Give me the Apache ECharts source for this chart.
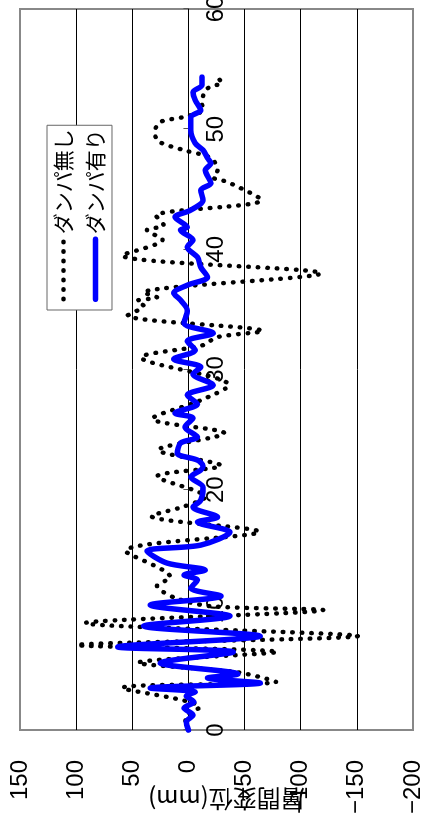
<!DOCTYPE html>
<html>
<head>
<meta charset="utf-8">
<script src="https://cdn.jsdelivr.net/npm/echarts@6/dist/echarts.min.js"></script>
<style>
html,body{margin:0;padding:0;background:#fff;overflow:hidden;width:426px;height:821px;}
#wrap{position:absolute;left:0;top:0;width:821px;height:426px;transform-origin:0 0;transform:translateY(821px) rotate(-90deg);}
</style>
</head>
<body>
<div id="wrap"></div>
<script>
// time axis ticks (s) and displacement ticks (mm)
const timeTicks = [0, 10, 20, 30, 40, 50, 60];
const dispTicks = [150, 100, 50, 0, -50, -100, -150, -200];

const seriesNames = ['ダンパ無し', 'ダンパ有り'];
const axisTitle = '層間変位(mm)';

// ダンパ無し (dotted)
const timeNo = [0, 1.0, 1.9, 3.5, 4.0, 4.8, 5.6, 6.5, 7.07, 7.82, 8.9, 9.98, 10.3, 11.0, 12.0, 12.7, 14.9, 16.5, 17.8, 18.6, 19.4, 21.1, 22.0, 23.3, 24.7, 25.9, 27.4, 28.7, 31.0, 32.0, 32.7, 33.2, 34.5, 35.3, 35.7, 36.0, 36.4, 38.0, 39.5, 40.8, 41.6, 42.0, 42.8, 44.1, 45.6, 46.0, 46.6, 47.6, 48.25, 49.0, 49.8, 50.6, 51.0, 51.6, 52.2, 53.2, 53.6, 53.8, 54.2];
const dispNo = [0, 3, -10, 59, -78, -44, 45, -79, 99, -151, 92, -120, -20, 12, 28, 16, 56, -63, 33, 4, -15, 28, -29, 27, -32, 32, -10, -36, 42, -12, -26, -66, 54, 40, 46, 28, 40, -118, 59, 23, 37, 22, 29, -65, -35, -22, -26, -20, 4, 27, 30, 25, 5, -13, -12, -15, -21, -30, -27];

// ダンパ有り (solid blue)
const timeYes = [0, 0.67, 1.25, 1.83, 2.33, 2.83, 3.16, 3.49, 3.91, 4.33, 4.66, 5.57, 6.49, 6.91, 7.82, 8.65, 9.48, 10.4, 11.15, 11.81, 12.48, 12.9, 13.31, 13.89, 14.89, 15.39, 16.47, 17.3, 17.72, 18.55, 19.13, 20.2, 21.05, 21.63, 21.96, 22.46, 23.04, 23.88, 24.38, 25.2, 25.96, 26.37, 27.12, 27.87, 28.7, 29.62, 30.2, 30.87, 31.6, 32.36, 33.03, 33.86, 34.94, 35.77, 36.36, 37.02, 37.69, 38.52, 39.35, 40.18, 40.77, 41.6, 41.85, 42.68, 43.26, 44.09, 44.93, 45.51, 46.59, 47.17, 47.59, 48.25, 48.84, 49.92, 51.0, 51.58, 52.41, 53.08, 53.66, 54.33];
const dispYes = [0, 2, -4, 4, -5, 2, -6, 34, -64, -17, -44, 25, -40, 63, -64, 40, -37, 34, -29, -2, -8, 4, -15, 19, 37, -11, -37, -8, -26, -4, -11, -13, -2, -11, -13, -8, 10, 7, -8, 3, -4, 12, -8, 1, -22, -4, -11, 13, -6, 1, -22, 4, 1, 7, 13, 1, -17, -11, -8, 1, -4, 7, 1, 12, -2, -13, -11, -20, -15, -20, -17, -13, -6, -2, -2, -11, -6, -4, -12, -12];

function pairs(ts, vs){ return ts.map((t,i)=>[t, vs[i]]); }

const GRID_H = 393;
const yMin = dispTicks[dispTicks.length-1], yMax = dispTicks[0];
// place the time axis on the zero displacement line
const xAxisOffset = -GRID_H * (0 - yMin) / (yMax - yMin);

const dottedStyle = {color: '#000', width: 4.5, type: [0.5, 9], cap: 'round'};
const solidStyle = {color: '#0000ff', width: 5.5, cap: 'round', join: 'round'};

const chart = echarts.init(document.getElementById('wrap'), null, {renderer:'canvas'});
const FONT = "'Liberation Sans', 'Noto Sans CJK JP', sans-serif";
const option = {
  animation: false,
  backgroundColor: '#fff',
  textStyle: {fontFamily: FONT},
  grid: {left: 91, top: 20, width: 721, height: GRID_H, show: true, borderColor: '#888', borderWidth: 2,
         backgroundColor: 'transparent', containLabel: false, outerBoundsMode: 'none'},
  legend: {
    orient: 'vertical', left: 511, top: 47,
    data: [
      {name: seriesNames[0], lineStyle: dottedStyle},
      {name: seriesNames[1], lineStyle: solidStyle}
    ],
    backgroundColor: '#fff', borderColor: '#666', borderWidth: 1,
    padding: [6, 4, 6, 8], itemGap: 11, itemWidth: 60, itemHeight: 12,
    itemStyle: {opacity: 0},
    textStyle: {fontSize: 21, color: '#000', fontFamily: "'Noto Sans CJK JP', sans-serif"}
  },
  xAxis: {
    type: 'value', position: 'bottom', offset: xAxisOffset,
    min: timeTicks[0], max: timeTicks[timeTicks.length-1], interval: timeTicks[1]-timeTicks[0],
    axisLine: {show: true, onZero: false, lineStyle: {color: '#000', width: 1}},
    axisTick: {show: true, inside: true, length: 5, lineStyle: {color: '#555'}},
    axisLabel: {fontSize: 24, color: '#000', margin: 16, fontFamily: FONT},
    splitLine: {show: false}
  },
  yAxis: {
    type: 'value', min: yMin, max: yMax, interval: dispTicks[0]-dispTicks[1],
    name: axisTitle, nameLocation: 'middle', nameGap: 57, nameMoveOverlap: false,
    nameTextStyle: {fontSize: 24, color: '#000', backgroundColor: '#fff', padding: [0, 20, 0, 0], fontFamily: "'Noto Sans CJK JP', 'Liberation Sans', sans-serif"},
    axisLine: {show: false, onZero: false},
    axisTick: {show: false},
    axisLabel: {fontSize: 24, color: '#000', margin: 30, fontFamily: FONT,
      formatter: v => String(v).replace('-', '\u2212')},
    splitLine: {show: true, showMinLine: false, showMaxLine: false, lineStyle: {color: '#000', width: 1}}
  },
  series: [
    {name: seriesNames[0], type: 'line', data: pairs(timeNo, dispNo), symbol: 'none', smooth: 0.3,
     lineStyle: dottedStyle, itemStyle: {color: '#000'}},
    {name: seriesNames[1], type: 'line', data: pairs(timeYes, dispYes), symbol: 'none', smooth: 0.3,
     lineStyle: solidStyle, itemStyle: {color: '#0000ff'}}
  ]
};
chart.setOption(option);
</script>
</body>
</html>
